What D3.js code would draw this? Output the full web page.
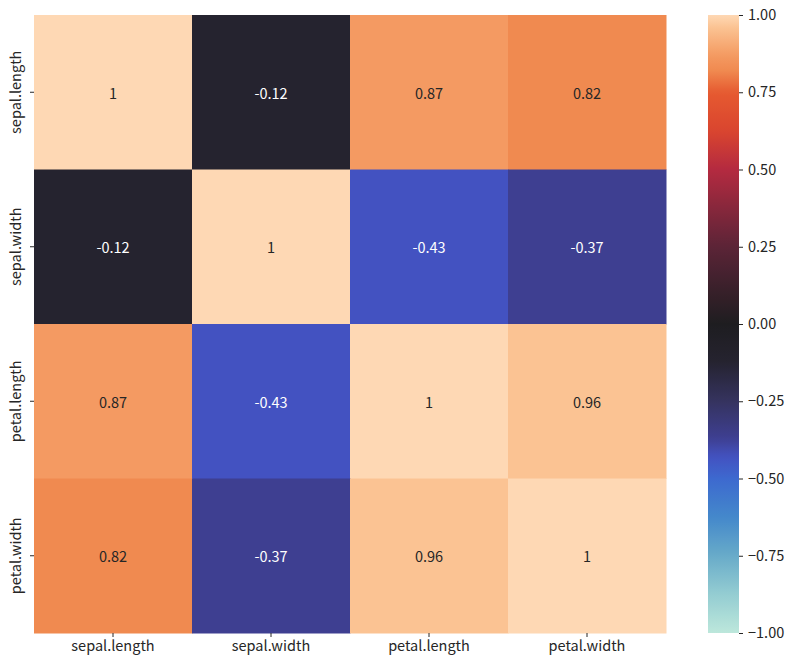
<!DOCTYPE html>
<html>
<head>
<meta charset="utf-8">
<script src="https://cdn.jsdelivr.net/npm/d3@7"></script>
<style>
body{margin:0;background:#fff;}
text{font-family:"Noto Sans CJK JP","Noto Sans",sans-serif;}
</style>
</head>
<body>
<svg id="chart" width="800" height="668"></svg>
<script>
const categories = ["sepal.length","sepal.width","petal.length","petal.width"];
const values = [
  [1, -0.12, 0.87, 0.82],
  [-0.12, 1, -0.43, -0.37],
  [0.87, -0.43, 1, 0.96],
  [0.82, -0.37, 0.96, 1]
];
const labels = [
  ["1","-0.12","0.87","0.82"],
  ["-0.12","1","-0.43","-0.37"],
  ["0.87","-0.43","1","0.96"],
  ["0.82","-0.37","0.96","1"]
];
const cbarTicks = [1, 0.75, 0.5, 0.25, 0, -0.25, -0.5, -0.75, -1];
const cbarTickLabels = ["1.00","0.75","0.50","0.25","0.00","\u22120.25","\u22120.50","\u22120.75","\u22121.00"];

// approximate "icefire" colormap stops
const cmDomain = [-1, -0.875, -0.75, -0.625, -0.5, -0.43, -0.37, -0.25, -0.12, 0, 0.25, 0.5, 0.625, 0.75, 0.82, 0.87, 0.96, 1];
const cmRange = ["#bde7db","#94cdd2","#68abc9","#4488cb","#3d69cf","#4352c1","#3e3f91","#35335f","#25232f","#1e1d20","#5b2437","#b42a40","#d9452f","#e65a30","#f08a50","#f49a62","#fbc393","#fed8b4"];
const color = d3.scaleLinear().domain(cmDomain).range(cmRange).interpolate(d3.interpolateRgb).clamp(true);

const FS = 14.5;
const svg = d3.select("#chart");
const mLeft = 34, mRight = 666, mTop = 15, mBottom = 633;
const x = d3.scaleBand().domain(categories).range([mLeft, mRight]);
const y = d3.scaleBand().domain(categories).range([mTop, mBottom]);

const cells = [];
values.forEach((row, i) => row.forEach((v, j) => cells.push({r: categories[i], c: categories[j], v, t: labels[i][j]})));

svg.append("g").selectAll("rect").data(cells).join("rect")
  .attr("x", d => x(d.c)).attr("y", d => y(d.r))
  .attr("width", x.bandwidth() + 0.5).attr("height", y.bandwidth() + 0.5)
  .attr("fill", d => color(d.v));

svg.append("g").selectAll("text").data(cells).join("text")
  .attr("x", d => x(d.c) + x.bandwidth() / 2)
  .attr("y", d => y(d.r) + y.bandwidth() / 2)
  .attr("text-anchor", "middle").attr("dominant-baseline", "central")
  .attr("font-size", FS)
  .attr("fill", d => {
    const c = d3.rgb(color(d.v));
    const lum = 0.2126 * c.r + 0.7152 * c.g + 0.0722 * c.b;
    return lum > 100 ? "#262626" : "#ffffff";
  })
  .text(d => d.t);

// axes
const xAxis = svg.append("g").attr("transform", `translate(0,${mBottom})`)
  .call(d3.axisBottom(x).tickSize(4).tickPadding(4));
xAxis.select(".domain").remove();
xAxis.selectAll("text").attr("font-size", FS).attr("fill", "#262626");
xAxis.selectAll("line").attr("stroke", "#262626");

const yAxis = svg.append("g").attr("transform", `translate(${mLeft},0)`)
  .call(d3.axisLeft(y).tickSize(4).tickPadding(4));
yAxis.select(".domain").remove();
yAxis.selectAll("line").attr("stroke", "#262626");
yAxis.selectAll("text")
  .attr("font-size", FS).attr("fill", "#262626")
  .attr("text-anchor", "middle")
  .attr("x", 0).attr("dy", 0)
  .attr("transform", "translate(-13,0) rotate(-90)");

// colorbar
const cbX = 708, cbW = 31;
const cbScale = d3.scaleLinear().domain([-1, 1]).range([mBottom, mTop]);
const defs = svg.append("defs");
const grad = defs.append("linearGradient").attr("id", "cbgrad")
  .attr("x1", 0).attr("y1", 1).attr("x2", 0).attr("y2", 0);
d3.range(0, 101).forEach(k => {
  const v = -1 + 2 * k / 100;
  grad.append("stop").attr("offset", (k) + "%").attr("stop-color", color(v));
});
svg.append("rect").attr("x", cbX).attr("y", mTop).attr("width", cbW).attr("height", mBottom - mTop)
  .attr("fill", "url(#cbgrad)");

const cbAxis = svg.append("g").attr("transform", `translate(${cbX + cbW},0)`)
  .call(d3.axisRight(cbScale).tickValues(cbarTicks).tickFormat((d, i) => cbarTickLabels[i]).tickSize(4).tickPadding(5));
cbAxis.select(".domain").remove();
cbAxis.selectAll("line").attr("stroke", "#262626");
cbAxis.selectAll("text").attr("font-size", FS).attr("fill", "#262626");
</script>
</body>
</html>
